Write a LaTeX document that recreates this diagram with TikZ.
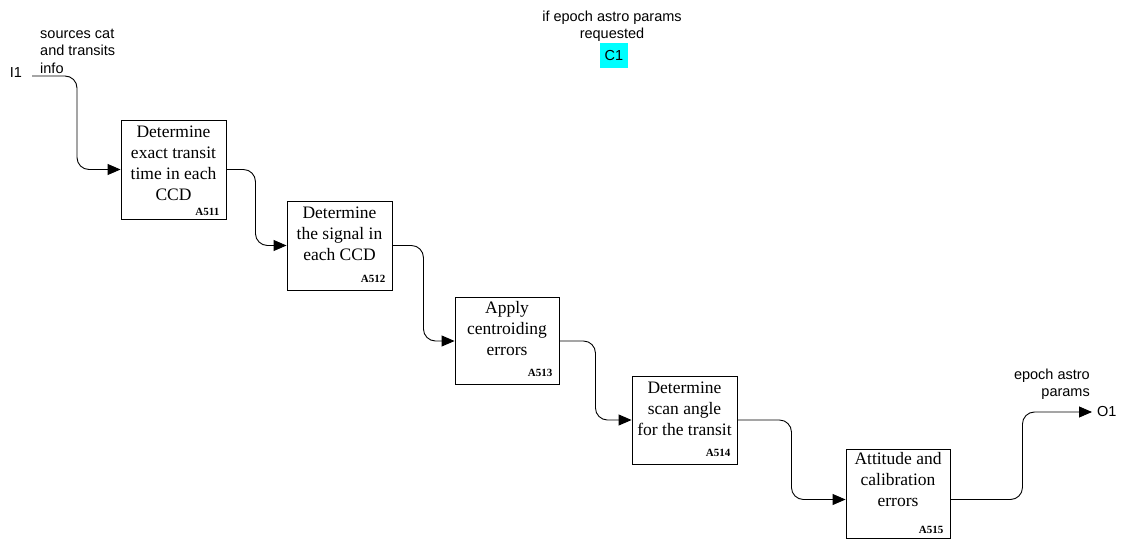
\documentclass[tikz,border=0pt]{standalone}
\usepackage{fontspec}
\setmainfont{Liberation Serif}
\newfontfamily\arialf{Liberation Sans}
\usetikzlibrary{arrows.meta}
\definecolor{ctrlcyan}{RGB}{0,255,255}
\tikzset{
  procbox/.style={draw, line width=0.9pt, inner sep=0pt},
  proctext/.style={font=\fontsize{17.5}{21}\selectfont, align=center, anchor=north, inner sep=0pt},
  alabel/.style={font=\bfseries\fontsize{11}{11}\selectfont, anchor=base east, inner sep=0pt},
  flow/.style={line width=0.9pt, rounded corners=12pt, -{Triangle[length=13pt,width=11pt]}},
  lbl/.style={font=\arialf\fontsize{14.5}{17.5}\selectfont, inner sep=0pt},
}
\begin{document}
\begin{tikzpicture}[x=1pt,y=-1pt]
\useasboundingbox (0,0) rectangle (1123,540);

% boxes
\node[procbox, minimum width=105pt, minimum height=99pt] (b1) at (173.5,169.5) {};
\node[procbox, minimum width=105pt, minimum height=89pt] (b2) at (339.5,245.5) {};
\node[procbox, minimum width=104pt, minimum height=87pt] (b3) at (507,341) {};
\node[procbox, minimum width=105pt, minimum height=88pt] (b4) at (684.5,420) {};
\node[procbox, minimum width=104pt, minimum height=89pt] (b5) at (898,493.5) {};

% box texts
\node[proctext] (t1) at ([yshift=-6pt]b1.north) {Determine\\exact transit\\time in each\\CCD};
\node[proctext] (t2) at ([yshift=-6pt]b2.north) {Determine\\the signal in\\each CCD};
\node[proctext] (t3) at ([yshift=-4.5pt]b3.north) {Apply\\centroiding\\errors};
\node[proctext] (t4) at ([yshift=-6pt]b4.north) {Determine\\scan angle\\for the transit};
\node[proctext] (t5) at ([yshift=-3.5pt]b5.north) {Attitude and\\calibration\\errors};

% activity labels
\node[alabel] (a1) at ([xshift=-7pt,yshift=4pt]b1.south east) {A511};
\node[alabel] (a2) at ([xshift=-7pt,yshift=8pt]b2.south east) {A512};
\node[alabel] (a3) at ([xshift=-7pt,yshift=8pt]b3.south east) {A513};
\node[alabel] (a4) at ([xshift=-7pt,yshift=8pt]b4.south east) {A514};
\node[alabel] (a5) at ([xshift=-7pt,yshift=5pt]b5.south east) {A515};

% input
\node[lbl] (i1) at (16,73) {I1};
\node[lbl, align=left, anchor=north west] (i1txt) at (40,28.5) {sources cat\\and transits\\info};
\coordinate (i1s) at (32,76);

% control
\node[lbl, align=center, anchor=north] (c1txt) at (612,10.5) {if epoch astro params\\requested};
\node[lbl, fill=ctrlcyan, minimum width=28pt, minimum height=25pt] (c1) at (614,55.5) {C1};

% output
\node[lbl, align=right, anchor=north east] (o1txt) at (1090,368.5) {epoch astro\\params};
\node[lbl, anchor=west, inner xsep=5pt] (o1) at (1092,412) {O1};

% connectors
\draw[flow] (i1s) -- ++(45,0) |- (b1.west);
\draw[flow] (b1.east) -- ++(29,0) |- (b2.west);
\draw[flow] (b2.east) -- ++(31,0) |- (b3.west);
\draw[flow] (b3.east) -- ++(36,0) |- (b4.west);
\draw[flow] (b4.east) -- ++(54,0) |- ([yshift=-6pt]b5.west);
\draw[flow] ([yshift=-6pt]b5.east) -- ++(72,0) |- (o1.west);
\end{tikzpicture}
\end{document}
